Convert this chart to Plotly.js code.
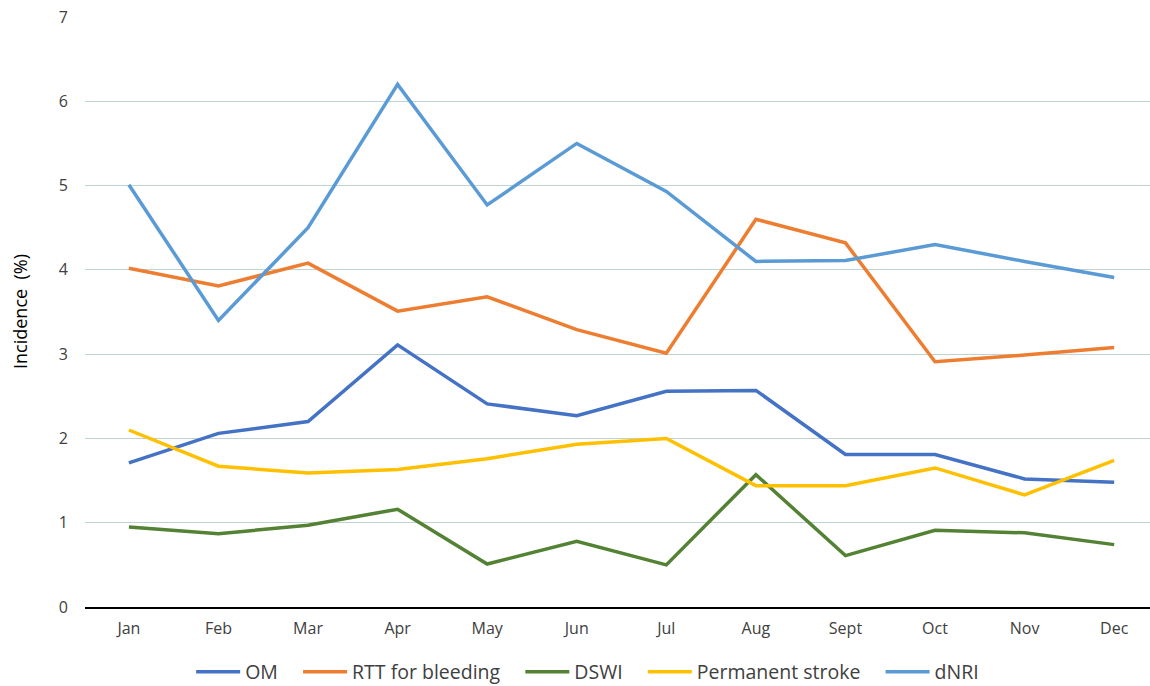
<!DOCTYPE html>
<html><head><meta charset="utf-8">
<script src="https://cdn.plot.ly/plotly-3.0.1.min.js"></script>
<style>html,body{margin:0;padding:0;background:#fff;}#chart{width:1150px;height:686px;}</style>
</head><body><div id="chart"></div>
<script>
const months = ["Jan","Feb","Mar","Apr","May","Jun","Jul","Aug","Sept","Oct","Nov","Dec"];
const om     = [1.71, 2.06, 2.20, 3.11, 2.41, 2.27, 2.56, 2.57, 1.81, 1.81, 1.52, 1.48];
const rtt    = [4.02, 3.81, 4.08, 3.51, 3.68, 3.29, 3.01, 4.60, 4.32, 2.91, 2.99, 3.08];
const dswi   = [0.95, 0.87, 0.97, 1.16, 0.51, 0.78, 0.50, 1.57, 0.61, 0.91, 0.88, 0.74];
const stroke = [2.10, 1.67, 1.59, 1.63, 1.76, 1.93, 2.00, 1.44, 1.44, 1.65, 1.33, 1.74];
const dnri   = [5.01, 3.40, 4.50, 6.20, 4.77, 5.50, 4.93, 4.10, 4.11, 4.30, 4.10, 3.91];
const seriesNames = ["OM","RTT for bleeding","DSWI","Permanent stroke","dNRI"];
const colors = ["#4472C4","#ED7D31","#548235","#FFC000","#5B9BD5"];
const yTitle = "Incidence&nbsp; (%)";
const pad = "&nbsp;&nbsp;&nbsp;";
const data = [om, rtt, dswi, stroke, dnri].map((y,i)=>({
  type:"scatter", mode:"lines", x:months, y:y,
  name: seriesNames[i] + (i < seriesNames.length-1 ? pad : ""),
  line:{color:colors[i], width:3.5}
}));
const font = "Open Sans, Liberation Sans, sans-serif";
const layout = {
  width:1150, height:686,
  margin:{l:85, r:0, t:17, b:79},
  paper_bgcolor:"#fff", plot_bgcolor:"#fff",
  font:{family:font, color:"#404040", size:16},
  showlegend:true,
  legend:{orientation:"h", xref:"container", yref:"container", x:0.511, xanchor:"center",
    y:1-672/686, yanchor:"middle", itemwidth:44,
    font:{size:19.5, color:"#404040", family:font}},
  xaxis:{type:"category", range:[-0.49, 11.4], showgrid:false, zeroline:false,
    showline:true, linecolor:"#000", linewidth:1.5, ticks:"", ticklabelstandoff:6,
    tickfont:{size:16, color:"#404040"}, fixedrange:true, automargin:false},
  yaxis:{range:[0,7], dtick:1, showgrid:true, gridcolor:"#BFD3D3", gridwidth:1.2,
    zeroline:false, showline:false, ticks:"", ticklabelstandoff:16,
    tickfont:{size:16, color:"#404040"}, automargin:false},
  annotations:[{text:yTitle, xref:"paper", yref:"paper", x:-65/1065, y:0.5,
    xanchor:"center", yanchor:"middle", textangle:-90, showarrow:false,
    font:{size:18, color:"#000", family:font}}]
};
Plotly.newPlot("chart", data, layout, {displayModeBar:false, staticPlot:true});
</script></body></html>
